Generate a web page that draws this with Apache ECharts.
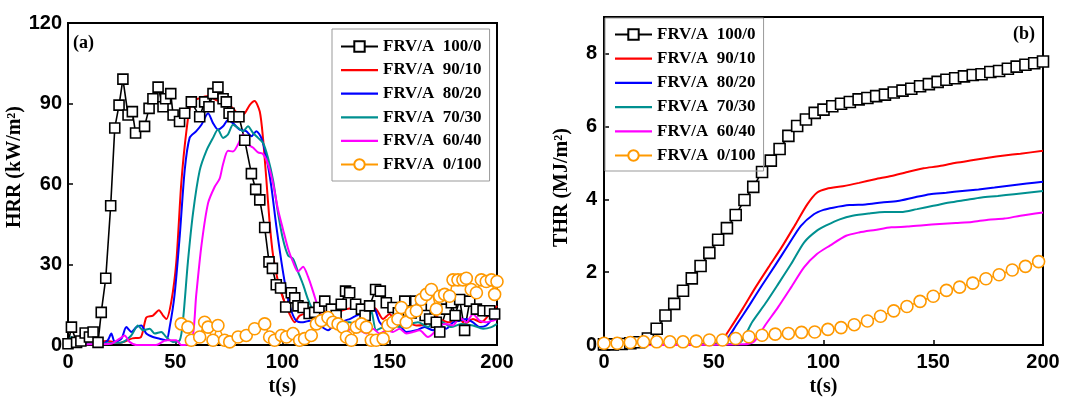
<!DOCTYPE html>
<html><head><meta charset="utf-8">
<script src="https://cdn.jsdelivr.net/npm/echarts@6/dist/echarts.min.js"></script>
<style>html,body{margin:0;padding:0;background:#fff}#c{width:1072px;height:402px}</style>
</head><body><div id="c"></div>
<script>
// ---------- labels ----------
const seriesNames = ['FRV/A  100/0','FRV/A  90/10','FRV/A  80/20','FRV/A  70/30','FRV/A  60/40','FRV/A  0/100'];
const colors = ['#000000','#ff0000','#0000ff','#009090','#ff00ff','#ff9900'];
const xTicks = [0, 50, 100, 150, 200];

// ---------- (a) HRR, kW/m2 : [t, value] ----------
const hrr100 = [[0,0.5],[1.6,6.7],[4,1],[6,1.5],[8,4.5],[10,3],[11.7,4.9],[14,1],[15.5,12.2],[17.6,24.9],[19.9,51.9],[21.8,80.9],[23.8,89.4],[25.6,99.1],[28,85.7],[30,87],[31.5,79],[35.7,81.5],[37.8,88.2],[39.6,91.8],[42,96.1],[44.3,88.8],[45.5,91.8],[47.9,93.7],[49,85.7],[52,83.3],[54.4,86.4],[57.5,90.6],[61.4,85.1],[63.7,90.6],[65.7,88.8],[67.6,93.7],[69.9,96.1],[72.3,91.8],[73.8,90.6],[75.1,86.4],[76.9,85.1],[79.7,85.1],[82.4,76.3],[85.5,63.9],[87.5,58],[89.4,54.1],[91.7,43.8],[93.7,31],[95.3,28.6],[97.1,22.5],[99.1,21.3],[101.5,14.2],[104.1,19.5],[105.7,17.6],[107.2,14.6],[109.6,14],[112.4,11.8],[115,12.2],[117,14],[119.7,16.4],[122.8,13.4],[125,11],[127.4,15.2],[129.4,20.1],[131.3,19.5],[134.1,15.2],[136.8,13.4],[138.5,11],[140.6,14.6],[143.4,20.7],[145.6,20.1],[148.4,15.8],[151.5,14],[154,12],[157,16.4],[160,12],[162.1,16.4],[164.7,13.4],[166.5,11],[168.6,9.7],[171.7,8.5],[173.3,4.9],[176.4,13.4],[178.7,15.8],[180.5,11],[182.6,17],[184.9,5.5],[187.3,16.4],[190.4,13.4],[193.5,12.8],[196.6,12.8],[198.9,11.6]];
const hrr90 = [[0,0.3],[6,1.2],[12,0.5],[18,1.5],[24,0.8],[30,2.5],[34,3],[36.5,10.3],[39.6,11],[42.4,13],[44.3,11],[45.8,9.7],[48.2,16.4],[50.5,31],[52.8,60.2],[55.2,79.7],[57.5,90.6],[61.4,92],[65.3,92.8],[69.2,91.2],[73,90.6],[76.9,88.2],[80,85.7],[82.4,86.4],[84.7,89.4],[87,90.9],[89.4,87],[90.9,77.2],[92.5,61.4],[94,45.6],[95.6,33.4],[97.9,23.7],[100.2,17.6],[103.3,11.6],[105.7,8.5],[108,11],[111.1,11.6],[115,11],[118.9,12.8],[122,11.6],[125.1,12.2],[129.8,13.4],[134.4,14],[139.1,15.2],[143.7,13.4],[146.9,9.7],[149.9,11.6],[153.1,8.5],[157.7,8.5],[162.4,7.3],[167.1,7.9],[170.2,11.6],[173.3,9.7],[177.9,8.5],[181.8,11],[184.9,7.9],[188.8,9.7],[192.7,8.5],[196.6,11.6],[200,14.6]];
const hrr80 = [[0,1.2],[1.6,1.8],[3.9,0.6],[7,5.5],[9.3,6.1],[11.7,3],[14,1.2],[16.3,0.6],[18.6,1.8],[20.2,4.3],[21.8,1.2],[24.9,2.4],[27.2,6.7],[29.5,4.9],[31.9,6.7],[34.2,7.3],[36.5,4.3],[39.6,3],[42.7,2.4],[45.8,1.8],[47.4,6.7],[49.7,18.9],[52.1,40.7],[54.4,65.1],[56.7,77.2],[59.8,79.7],[62.2,82.1],[65.3,86.4],[67.6,82.7],[69.9,80.3],[72.3,81.5],[74.6,83.9],[76.9,82.7],[80,80.3],[83.1,79.7],[85.5,77.8],[87.8,79.7],[90.1,77.2],[92.5,69.9],[94.8,59],[97.1,44.4],[99.5,31],[101.8,20.1],[104.1,12.8],[106.4,9.1],[109.6,8.5],[112.7,9.1],[115.8,6.1],[118.1,6.7],[121.2,5.5],[123.5,6.7],[125.9,6.1],[129,9.1],[131.3,9.7],[134.4,11],[137.5,12.2],[140.6,14],[143,13.4],[145.3,8.5],[148.4,6.1],[150.7,5.5],[153.8,7.9],[157.7,4.9],[162.4,5.5],[166.3,6.7],[170.2,5.5],[173.3,7.3],[176.4,6.1],[179.5,8.5],[182.6,9.1],[185.7,9.7],[188.8,8.5],[191.9,6.7],[195,7.3],[198.1,10.3],[200,13.4]];
const hrr70 = [[0,0.6],[1.6,3],[3.9,1.8],[8,0.8],[14,0.5],[20,0.8],[25,1],[29.5,3.6],[32.6,7.3],[35,5.5],[38.1,6.1],[40.4,4.3],[43.5,4.9],[45.8,3],[48.9,1.2],[52.1,1.8],[53.6,9.1],[55.9,31],[58.3,49.3],[61.4,65.1],[64.5,72.4],[67.6,77.2],[69.9,80.3],[72.3,77.2],[74.6,78.5],[76.9,82.1],[79.3,80.9],[81.6,79.7],[83.9,81.5],[86.2,79.1],[88.6,77.2],[90.9,75.4],[93.2,69.9],[95.6,61.4],[97.9,49.3],[100.2,39.5],[102.6,33.4],[104.9,32.2],[107.2,27.4],[109.6,22.5],[111.9,17],[114.2,12.8],[116.6,9.1],[119.7,7.9],[123.5,7.3],[127.4,8.5],[131.3,8.5],[135.2,7.3],[139.1,6.7],[141.4,12.8],[143.7,5.5],[146.9,6.7],[150.7,7.9],[154.6,6.7],[159.3,7.9],[163.2,8.5],[167.9,6.7],[171,9.7],[174.9,8.5],[178.6,6.7],[183.3,7.9],[188.8,7.3],[193.5,6.1],[197.4,6.7],[200,7.9]];
const hrr60 = [[0,0],[10,0.3],[20,0.5],[24.1,2.4],[26.4,3.6],[28.7,1.2],[32,0],[41,0],[45.8,1.8],[50.5,1.8],[52.8,0],[57.5,0.6],[59.8,18.9],[62.2,37.1],[65.3,52.9],[68.4,59],[70.7,62],[72.3,67.5],[74.6,72.4],[76.9,72.1],[79.3,74.8],[81.6,78.5],[83.9,74.8],[86.2,73.6],[88.6,71.8],[90.9,71.2],[93.2,67.5],[95.6,60.2],[97.9,50.5],[100.2,43.2],[102.6,35.9],[104.9,31],[107.2,27.4],[109.6,29.2],[111.9,25.5],[114.2,20.1],[116.6,14],[118.9,9.7],[121.2,7.9],[123.5,7.3],[126.6,6.7],[129.8,5.5],[132.9,6.1],[136,5.5],[139.1,4.3],[142.2,6.1],[145.3,4.3],[148.4,5.5],[151.5,4.9],[154.6,6.1],[157.7,4.3],[160.8,4.9],[163.9,5.5],[167.8,3],[170.2,4.3],[173.3,7.3],[176.4,7.9],[179.5,7.3],[182.6,10.3],[185.7,8.5],[188.8,11.6],[191.9,9.1],[195,8.5],[198.1,9.1],[200,9.7]];
const hrr0 = [[52.8,7.9],[55.9,6.7],[57.5,1.8],[61.4,3],[63.7,8.5],[65.3,6.7],[67.6,1.8],[69.9,7.3],[73,1.8],[75.4,1.2],[79.3,3],[83.1,3.6],[87,6.1],[91.7,7.9],[94,3],[96.3,1.8],[99.5,3.6],[101.8,3],[104.9,4.3],[108,1.8],[110.3,2.4],[113.4,3.6],[115.8,7.9],[118.1,9.1],[121.2,10.3],[123.5,8.5],[125.9,7.9],[128.2,6.7],[129.8,3],[132.1,1.8],[134.4,6.7],[136.8,7.9],[139.1,6.7],[141.4,1.8],[143.7,1.8],[146.9,2.4],[149.2,7.3],[151.5,8.5],[153.8,9.7],[155.4,14],[157.7,8.5],[160.1,12.2],[162.4,12.8],[164.7,17],[167.1,18.9],[169.4,20.7],[171.7,13.4],[173.3,18.2],[175.6,18.9],[177.9,18.2],[179.5,24.3],[181.8,24.3],[184.1,24.3],[185.7,24.9],[188,20.7],[190.4,19.5],[192.7,24.3],[195,23.7],[197.4,24.3],[198.9,18.9],[200,23.7]];

// ---------- (b) THR, MJ/m2 : [t, value] ----------
const thr100 = [[0,0.02],[4,0.02],[8,0.03],[12,0.05],[16,0.08],[20,0.18],[24,0.45],[28,0.81],[32,1.13],[36,1.49],[40,1.83],[44,2.17],[48,2.53],[52,2.89],[56,3.21],[60,3.57],[64,3.98],[68,4.34],[72,4.75],[76,5.06],[80,5.38],[84,5.74],[88,6.01],[92,6.19],[96,6.37],[100,6.46],[104,6.55],[108,6.62],[112,6.67],[116,6.74],[120,6.78],[124,6.83],[128,6.87],[132,6.93],[136,6.98],[140,7.03],[144,7.10],[148,7.16],[152,7.22],[156,7.28],[160,7.32],[164,7.37],[168,7.41],[172,7.43],[176,7.49],[180,7.52],[184,7.58],[188,7.64],[192,7.69],[196,7.73],[200,7.78]];
const thr90 = [[0,0],[50,0.04],[53,0.08],[57.4,0.45],[63.2,1.0],[69.1,1.59],[75,2.14],[80.9,2.68],[86.8,3.27],[92.6,3.86],[97,4.18],[101.5,4.29],[108.8,4.36],[116.2,4.45],[123.5,4.55],[130.9,4.64],[138.2,4.75],[145.6,4.85],[152.9,4.91],[160.3,5.0],[167.6,5.07],[175,5.14],[182.4,5.2],[189.7,5.25],[200,5.33]];
const thr80 = [[0,0],[52,0.03],[55,0.08],[60.3,0.55],[66.2,1.09],[72,1.64],[77.9,2.18],[83.8,2.73],[89.7,3.27],[95.6,3.59],[100,3.71],[104.4,3.77],[111.8,3.84],[119.1,3.86],[126.5,3.91],[133.8,3.95],[141.2,4.05],[148.5,4.14],[155.9,4.18],[163.2,4.23],[170.6,4.27],[177.9,4.32],[185.3,4.38],[192.6,4.43],[200,4.48]];
const thr70 = [[0,0],[58,0.03],[62.5,0.1],[67.6,0.64],[73.5,1.14],[79.4,1.68],[85.3,2.23],[91.2,2.82],[97,3.14],[101.5,3.29],[107.4,3.45],[113.2,3.55],[120.6,3.61],[127.9,3.65],[135.3,3.65],[142.6,3.73],[150,3.82],[157.4,3.91],[164.7,3.98],[172,4.05],[179.4,4.09],[186.8,4.14],[200,4.23]];
const thr60 = [[0,0],[64,0.02],[68.4,0.1],[73.5,0.55],[79.4,1.05],[85.3,1.59],[91.2,2.14],[97,2.5],[102.9,2.73],[110.3,3.0],[116.2,3.09],[123.5,3.16],[130.9,3.23],[138.2,3.25],[145.6,3.29],[152.9,3.32],[160.3,3.35],[167.6,3.38],[175,3.44],[182.4,3.47],[189.7,3.55],[200,3.64]];
const thr0 = [[0,0.05],[6,0.05],[12,0.07],[18,0.09],[24,0.09],[30,0.09],[36,0.09],[42,0.11],[48,0.14],[54,0.14],[60,0.18],[66,0.23],[72,0.27],[78,0.30],[84,0.32],[90,0.35],[96,0.36],[102,0.43],[108,0.48],[114,0.56],[120,0.66],[126,0.79],[132,0.94],[138,1.06],[144,1.20],[150,1.34],[156,1.50],[162,1.59],[168,1.70],[174,1.82],[180,1.93],[186,2.06],[192,2.16],[198,2.29]];

const hrrData = [hrr100, hrr90, hrr80, hrr70, hrr60, hrr0];
const thrData = [thr100, thr90, thr80, thr70, thr60, thr0];

const serif = 'Liberation Serif';
const sans = 'Liberation Sans';
const lineIcon = 'path://M0,0H37V2.2H0Z';

function makeSeries(data, i, gi) {
  const s = {
    name: seriesNames[i], type: 'line', data: data,
    xAxisIndex: gi, yAxisIndex: gi,
    lineStyle: {color: colors[i], width: i === 0 ? 1.6 : 2},
    itemStyle: {color: colors[i]},
    symbol: 'none', smooth: 0.25, animation: false
  };
  if (i === 0) {
    s.symbol = 'rect'; s.symbolSize = gi === 0 ? 10 : 11; s.smooth = false;
    s.itemStyle = {color: '#fff', borderColor: '#000', borderWidth: 1.6};
  } else if (i === 5) {
    s.symbol = 'circle'; s.symbolSize = 12; s.smooth = false;
    s.lineStyle = {color: colors[5], width: 1.5};
    s.itemStyle = {color: '#fff', borderColor: colors[5], borderWidth: 1.6};
  }
  return s;
}

const series = [];
hrrData.forEach((d, i) => series.push(makeSeries(d, i, 0)));
thrData.forEach((d, i) => series.push(makeSeries(d, i, 1)));

const legendItems = seriesNames.map((n, i) =>
  (i === 0 || i === 5) ? {name: n} : {name: n, icon: lineIcon, itemStyle: {color: colors[i]}});

const tickStyle = {inside: true, length: 5, lineStyle: {color: '#000', width: 1.5}};
const lineAxis = {lineStyle: {color: '#000', width: 2}};
const lblStyle = {color: '#000', fontFamily: sans, fontWeight: 'bold', fontSize: 20};
const nameStyle = {color: '#000', fontFamily: serif, fontWeight: 'bold', fontSize: 20};

function xAx(gi) {
  return {
    type: 'value', gridIndex: gi, min: 0, max: 200, interval: 50,
    axisLine: lineAxis, axisTick: tickStyle, splitLine: {show: false},
    axisLabel: Object.assign({margin: 7, formatter: v => xTicks.includes(v) ? String(v) : ''}, lblStyle),
    name: 't(s)', nameLocation: 'middle', nameGap: 30, nameTextStyle: nameStyle
  };
}

const legendText = {color: '#000', fontFamily: serif, fontWeight: 'bold', fontSize: 17, lineHeight: 17};

const option = {
  animation: false,
  backgroundColor: '#fff',
  grid: [
    {left: 68, right: 575, top: 23, bottom: 50, show: true, borderColor: '#000', borderWidth: 2},
    {left: 604, right: 29, top: 17, bottom: 52, show: true, borderColor: '#000', borderWidth: 2}
  ],
  xAxis: [xAx(0), xAx(1)],
  yAxis: [
    {type: 'value', gridIndex: 0, min: 0, max: 120, interval: 30,
     axisLine: lineAxis, axisTick: tickStyle, splitLine: {show: false},
     axisLabel: Object.assign({margin: 6}, lblStyle),
     name: 'HRR (kW/m²)', nameLocation: 'middle', nameGap: 38,
     nameTextStyle: Object.assign({padding: [0, 0, 0, 34]}, nameStyle)},
    {type: 'value', gridIndex: 1, min: 0, max: 9, interval: 2,
     axisLine: lineAxis, axisTick: tickStyle, splitLine: {show: false},
     axisLabel: Object.assign({margin: 7, showMaxLabel: false}, lblStyle),
     name: 'THR (MJ/m²)', nameLocation: 'middle', nameGap: 32,
     nameTextStyle: Object.assign({padding: [0, 13, 0, 0]}, nameStyle)}
  ],
  legend: [
    {data: legendItems, orient: 'vertical', left: 332, top: 29,
     padding: [9, 8, 8, 8], itemGap: 6.6, itemWidth: 37, itemHeight: 13,
     backgroundColor: '#fff', borderColor: '#999', borderWidth: 1,
     textStyle: legendText, selectedMode: false},
    {data: legendItems, orient: 'vertical', left: 605, top: 18,
     padding: [8, 8, 7, 9], itemGap: 7.2, itemWidth: 37, itemHeight: 13,
     backgroundColor: 'rgba(255,255,255,0)', borderColor: '#999', borderWidth: 1,
     textStyle: legendText, selectedMode: false}
  ],
  graphic: [
    {type: 'text', left: 73, top: 34, style: {text: '(a)', fill: '#000', font: 'bold 18px "Liberation Serif"'}},
    {type: 'text', left: 1013, top: 25, style: {text: '(b)', fill: '#000', font: 'bold 18px "Liberation Serif"'}}
  ],
  series: series
};

const chart = echarts.init(document.getElementById('c'), null, {renderer: 'canvas'});
chart.setOption(option);
</script>
</body></html>
